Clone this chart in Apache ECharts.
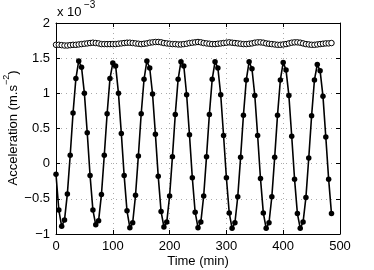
<!DOCTYPE html>
<html>
<head>
<meta charset="utf-8">
<style>html,body{margin:0;padding:0;background:#fff;}#c{width:374px;height:270px;}</style>
<script src="https://cdn.jsdelivr.net/npm/echarts@6/dist/echarts.min.js"></script>
</head>
<body>
<div id="c"></div>
<script>
// Time in minutes (sampling every 5 min)
var times = [0,5,10,15,20,25,30,35,40,45,50,55,60,65,70,75,80,85,90,95,100,105,110,115,120,125,130,135,140,145,150,155,160,165,170,175,180,185,190,195,200,205,210,215,220,225,230,235,240,245,250,255,260,265,270,275,280,285,290,295,300,305,310,315,320,325,330,335,340,345,350,355,360,365,370,375,380,385,390,395,400,405,410,415,420,425,430,435,440,445,450,455,460,465,470,475,480,485];
// Acceleration, x 10^-3 m.s^-2 (filled dots, oscillating)
var oscil = [
 -0.15,-0.66,-0.89,-0.80,-0.43,0.12,0.72,1.21,1.46,1.37,1.00,0.44,
 -0.17,-0.66,-0.87,-0.81,-0.44,0.12,0.71,1.21,1.43,1.39,1.00,0.43,
 -0.17,-0.67,-0.91,-0.84,-0.45,0.11,0.71,1.20,1.46,1.36,0.99,0.42,
 -0.18,-0.68,-0.90,-0.83,-0.46,0.10,0.70,1.20,1.45,1.39,0.98,0.41,
 -0.20,-0.69,-0.91,-0.83,-0.46,0.10,0.70,1.20,1.45,1.36,0.98,0.40,
 -0.20,-0.70,-0.92,-0.84,-0.47,0.09,0.69,1.19,1.45,1.35,0.97,0.40,
 -0.21,-0.70,-0.92,-0.84,-0.47,0.09,0.69,1.19,1.44,1.33,0.97,0.39,
 -0.22,-0.71,-0.92,-0.83,-0.48,0.08,0.68,1.19,1.41,1.32,0.96,0.38,
 -0.22,-0.71];
// Acceleration, x 10^-3 m.s^-2 (open circles, nearly constant)
var steady = [
 1.69,1.69,1.685,1.68,1.68,1.685,1.69,1.69,1.695,1.70,1.705,1.71,
 1.715,1.72,1.715,1.71,1.70,1.70,1.70,1.70,1.70,1.70,1.705,1.71,
 1.715,1.72,1.72,1.715,1.71,1.705,1.70,1.705,1.71,1.72,1.725,1.73,
 1.73,1.725,1.715,1.71,1.705,1.70,1.70,1.695,1.695,1.70,1.705,1.715,
 1.72,1.725,1.73,1.725,1.715,1.71,1.705,1.70,1.70,1.705,1.71,1.715,
 1.72,1.725,1.72,1.715,1.71,1.705,1.70,1.70,1.705,1.71,1.72,1.725,
 1.725,1.72,1.71,1.705,1.70,1.695,1.69,1.69,1.695,1.70,1.71,1.72,
 1.725,1.725,1.72,1.71,1.70,1.695,1.69,1.69,1.695,1.70,1.705,1.71,
 1.71,1.715];
var xTicks = [0,100,200,300,400,500];
var yTicks = [-1,-0.5,0,0.5,1,1.5,2];

function pairs(xs, ys){ var out=[]; for(var i=0;i<xs.length;i++){ out.push([xs[i], ys[i]]); } return out; }
function fmtY(v){ var s = String(v); return s.replace('-', '\u2212'); }

var FONT = 'Liberation Sans, Arial, Helvetica, sans-serif';
var chart = echarts.init(document.getElementById('c'), null, {renderer:'canvas'});
var axisLine = {show:true, onZero:false, lineStyle:{color:'#000', width:1}};
var axisTick = {show:true, inside:true, length:4, lineStyle:{color:'#000'}};
var gridLine = {show:true, lineStyle:{color:'#aaa', width:1, type:[1,4]}};
chart.setOption({
  animation:false,
  backgroundColor:'#fff',
  grid:{left:56, right:34, top:23, bottom:36},
  xAxis:[
    {type:'value', min:xTicks[0], max:xTicks[xTicks.length-1], interval:100, position:'bottom',
      axisLine:axisLine, axisTick:axisTick,
      axisLabel:{color:'#000', fontSize:13, fontFamily:FONT, margin:6},
      splitLine:gridLine},
    {type:'value', min:xTicks[0], max:xTicks[xTicks.length-1], interval:100, position:'top',
      axisLine:axisLine, axisTick:axisTick,
      axisLabel:{show:false}, splitLine:{show:false}}
  ],
  yAxis:[
    {type:'value', min:yTicks[0], max:yTicks[yTicks.length-1], interval:0.5, position:'left',
      axisLine:axisLine, axisTick:axisTick,
      axisLabel:{color:'#000', fontSize:13, fontFamily:FONT, margin:6, formatter:fmtY},
      splitLine:gridLine},
    {type:'value', min:yTicks[0], max:yTicks[yTicks.length-1], interval:0.5, position:'right',
      axisLine:axisLine, axisTick:axisTick,
      axisLabel:{show:false}, splitLine:{show:false}}
  ],
  series:[
    {type:'line', data:pairs(times, steady), symbol:'circle', symbolSize:5.5, showAllSymbol:true,
      lineStyle:{width:0, opacity:0}, itemStyle:{color:'#fff', borderColor:'#000', borderWidth:1}, z:3},
    {type:'line', data:pairs(times, oscil), symbol:'circle', symbolSize:5.5, showAllSymbol:true,
      lineStyle:{width:1.6, color:'#000'}, itemStyle:{color:'#000', borderWidth:0}, z:2}
  ],
  graphic:[
    {type:'text', left:57, top:6, style:{text:'x 10', fontSize:13, fontFamily:FONT, fill:'#000'}},
    {type:'text', left:84, top:0, style:{text:'\u22123', fontSize:10, fontFamily:FONT, fill:'#000'}},
    {type:'text', x:198, y:261, style:{text:'Time (min)', fontSize:13, fontFamily:FONT, fill:'#000', align:'center', verticalAlign:'middle'}},
    {type:'text', x:13, y:128, rotation:Math.PI/2,
      style:{text:'{n|Acceleration (m.s}{s|\u22122}{n|)}', align:'center', verticalAlign:'middle', fill:'#000', fontFamily:FONT,
        rich:{n:{fontSize:13, fontFamily:FONT, lineHeight:22, verticalAlign:'middle', fill:'#000'},
              s:{fontSize:9, fontFamily:FONT, lineHeight:9, verticalAlign:'top', fill:'#000'}}}}
  ]
});
</script>
</body>
</html>
